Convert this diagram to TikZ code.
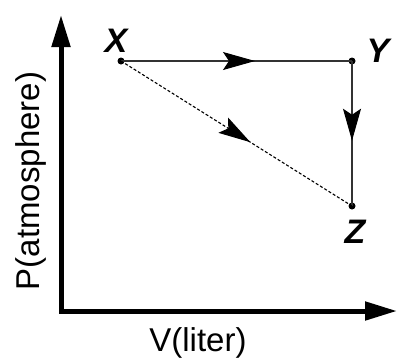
\documentclass[tikz,border=0pt]{standalone}
\usepackage{fontspec}
\setmainfont{Liberation Sans}
\usetikzlibrary{arrows.meta, decorations.markings}

\begin{document}
\begin{tikzpicture}[x=1pt, y=-1pt,
    axis/.style={line width=5pt, line join=miter, {Triangle[length=32pt, width=18pt]}-{Triangle[length=32pt, width=18pt]}},
    state/.style={circle, fill=black, inner sep=0pt, minimum size=7pt},
    statelabel/.style={font=\fontsize{34}{40}\selectfont\bfseries\itshape},
    axislabel/.style={font=\fontsize{33}{40}\selectfont},
    midarrow/.style={postaction={decorate, decoration={markings,
        mark=at position #1 with {\arrow[black]{Stealth[length=32pt, width=18pt, inset=6pt, line width=1pt]}}}}},
    path/.style={line width=1.5pt, black!80}]
    \useasboundingbox (0,0) rectangle (398,360);

    % axes
    \coordinate (ptip) at (61,15);
    \coordinate (origin) at (61,311);
    \coordinate (vtip) at (397,311);
    \draw[axis] (ptip) -- (origin) -- (vtip);
    \node[axislabel, rotate=90] (plabel) at (31,181) {P(atmosphere)};
    \node[axislabel] (vlabel) at (198,343) {V(liter)};

    % states
    \node[state] (X) at (121,61) {};
    \node[state] (Y) at (352,61) {};
    \node[state] (Z) at (352,206) {};
    \node[statelabel] (xlabel) at (116,41) {X};
    \node[statelabel] (ylabel) at (378,51) {Y};
    \node[statelabel] (zlabel) at (355,232) {Z};

    % processes
    \draw[path, midarrow=0.58] (X.center) -- (Y.center);
    \draw[path, midarrow=0.55] (Y.center) -- (Z.center);
    \draw[line width=1.1pt, dash pattern=on 3pt off 2pt, midarrow=0.56] (X.center) -- (Z.center);
\end{tikzpicture}
\end{document}
